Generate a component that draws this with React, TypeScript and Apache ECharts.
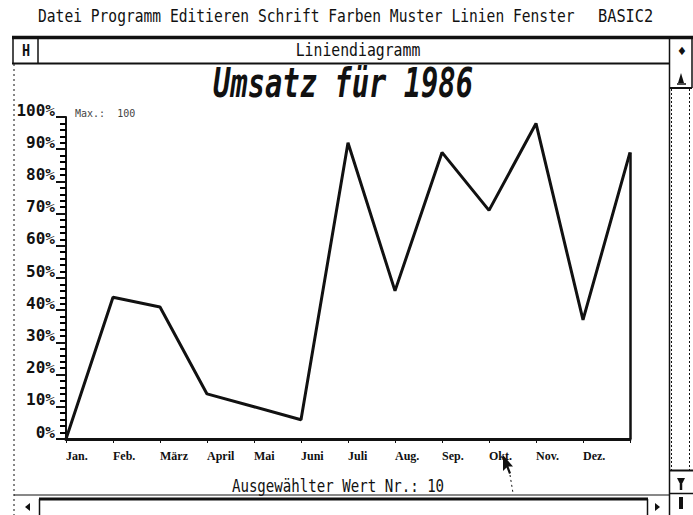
import React, { useEffect, useRef } from "react";
import * as echarts from "echarts";

const months = ["Jan.", "Feb.", "März", "April", "Mai", "Juni", "Juli", "Aug.", "Sep.", "Okt.", "Nov.", "Dez.", ""];
const sales = [0, 44, 41, 14, 10, 6, 92, 46, 89, 71, 98, 37, 89];
const menuItems = "Datei Programm Editieren Schrift Farben Muster Linien Fenster";
const appName = "BASIC2";
const windowTitle = "Liniendiagramm";
const chartTitle = "Umsatz für 1986";
const maxNote = "Max.:  100";
const footer = "Ausgewählter Wert Nr.: 10";

const MONO = "'DejaVu Sans Mono', monospace";
const BLACK = "#111";

function ln(x1: number, y1: number, x2: number, y2: number, w = 1.5, dash?: number[]) {
  return {
    type: "line",
    silent: true,
    shape: { x1, y1, x2, y2 },
    style: { stroke: BLACK, lineWidth: w, lineDash: dash },
  };
}

function txt(x: number, y: number, text: string, size: number, sx: number, align = "left", extra: any = {}) {
  return {
    type: "text",
    silent: true,
    x,
    y,
    scaleX: sx,
    scaleY: 1,
    style: {
      text,
      fill: extra.fill || BLACK,
      font: `${extra.weight || "normal"} ${extra.italic ? "italic" : ""} ${size}px ${MONO}`,
      align,
      verticalAlign: "middle",
    },
  };
}

export default function App() {
  const ref = useRef<HTMLDivElement>(null);
  useEffect(() => {
    if (!ref.current) return;
    const chart = echarts.init(ref.current, undefined, { renderer: "svg" });
    const option: any = {
      animation: false,
      backgroundColor: "#fff",
      grid: { left: 66, right: 63, top: 117, bottom: 76, containLabel: false },
      xAxis: {
        type: "category",
        data: months,
        boundaryGap: false,
        axisLine: { lineStyle: { color: BLACK, width: 3 } },
        axisTick: { show: true, length: 4, lineStyle: { color: BLACK, width: 1 } },
        axisLabel: {
          color: BLACK,
          align: "left",
          margin: 11,
          fontFamily: "'Liberation Serif', serif",
          fontWeight: "bold",
          fontSize: 12,
          interval: 0,
        },
        splitLine: { show: false },
      },
      yAxis: [
        {
          type: "value",
          position: "left",
          min: 0,
          max: 100,
          interval: 10,
          axisLine: { show: true, lineStyle: { color: BLACK, width: 2 } },
          axisTick: { show: true, length: 10, lineStyle: { color: BLACK, width: 2 } },
          minorTick: { show: true, splitNumber: 5, length: 6, lineStyle: { color: "#000", width: 2 } },
          axisLabel: {
            color: BLACK,
            formatter: "{value}%",
            verticalAlign: "bottom",
            margin: 11,
            fontFamily: MONO,
            fontSize: 16,
            fontWeight: "bold",
            lineHeight: 14,
          },
          splitLine: { show: false },
          minorSplitLine: { show: false },
        },
      ],
      series: [
        {
          type: "line",
          data: sales,
          symbol: "none",
          lineStyle: { color: BLACK, width: 3 },
          markLine: {
            silent: true,
            symbol: ["none", "none"],
            label: { show: false },
            lineStyle: { color: BLACK, width: 2.5, type: "solid" },
            data: [[{ coord: [12, 0] }, { coord: [12, sales[12]] }]],
          },
        },
      ],
      graphic: [
        // menu bar
        txt(38, 16, menuItems, 17, 0.86),
        txt(598, 16, appName, 17, 0.9),
        // window frame
        ln(12, 37.5, 693, 37.5, 3.5),
        ln(13, 37, 13, 64, 1.5),
        ln(12, 63.5, 670, 63.5, 2),
        ln(38, 38, 38, 63, 1.5),
        txt(26, 51, "H", 15, 0.9, "center", { weight: "bold" }),
        txt(358, 50, windowTitle, 17, 0.87, "center"),
        ln(14, 64, 14, 515, 1, [2, 3]),
        // right scrollbar
        ln(669.5, 38, 669.5, 515, 1.5),
        ln(692, 38, 692, 88, 1.5),
        txt(682, 51, "♦", 14, 1, "center"),
        ln(670, 88, 692, 88, 2),
        {
          type: "polygon",
          silent: true,
          shape: { points: [[681, 73], [678, 83], [684, 83]] },
          style: { fill: BLACK },
        },
        ln(677, 84, 686, 84, 1.5),
        ln(671.5, 89, 671.5, 470, 1, [2, 2]),
        ln(689.5, 89, 689.5, 470, 1, [2, 2]),
        ln(670, 470.5, 693, 470.5, 2),
        {
          type: "polygon",
          silent: true,
          shape: { points: [[677, 478], [685, 478], [681, 486]] },
          style: { fill: BLACK },
        },
        ln(681, 484, 681, 490, 2.5),
        ln(670, 493.5, 693, 493.5, 1.5),
        { type: "rect", silent: true, shape: { x: 679, y: 497, width: 4, height: 12 }, style: { fill: BLACK } },
        // bottom scroll bar
        ln(14, 495, 669, 495, 1),
        ln(39, 499, 648, 499, 3),
        ln(39.5, 499, 39.5, 515, 1.5),
        ln(647.5, 499, 647.5, 515, 1.5),
        {
          type: "polygon",
          silent: true,
          shape: { points: [[25, 507], [30, 503], [30, 511]] },
          style: { fill: BLACK },
        },
        {
          type: "polygon",
          silent: true,
          shape: { points: [[660, 507], [655, 503], [655, 511]] },
          style: { fill: BLACK },
        },
        // chart title
        txt(343, 83, chartTitle, 40, 0.72, "center", { weight: "bold", italic: true }),
        txt(75, 113, maxNote, 10, 1, "left", { fill: "#444" }),
        txt(338, 487, footer, 17, 0.83, "center"),
        // mouse cursor
        {
          type: "polygon",
          silent: true,
          shape: {
            points: [[503, 455], [503, 471], [506.5, 467.5], [509, 474], [511, 473], [508.5, 466.5], [513, 466.5]],
          },
          style: { fill: BLACK },
        },
        ln(510, 475, 513, 493, 1, [2, 3]),
      ],
    };
    chart.setOption(option);
    return () => chart.dispose();
  }, []);
  return (
    <div
      ref={ref}
      style={{ position: "fixed", left: 0, top: 0, width: 693, height: 515, background: "#fff" }}
    />
  );
}
